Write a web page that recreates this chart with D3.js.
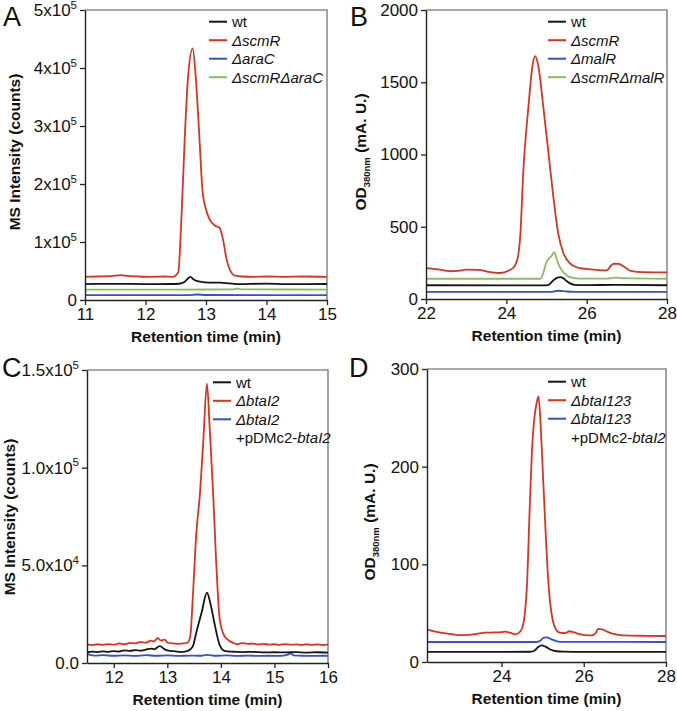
<!DOCTYPE html>
<html><head><meta charset="utf-8">
<script src="https://cdn.jsdelivr.net/npm/d3@7"></script>
<style>body{margin:0;background:#fff} text{font-family:"Liberation Sans",Arial,Helvetica,sans-serif}</style>
</head><body><svg id="c" width="677" height="711"></svg>
<script>
// ---------- DATA ----------
// Panel A (MS intensity, counts)
const aXTicks = [11, 12, 13, 14, 15];
const aYTicks = [0, 1e5, 2e5, 3e5, 4e5, 5e5];
const aYTickLabels = [["0",""],["1x10","5"],["2x10","5"],["3x10","5"],["4x10","5"],["5x10","5"]];
const aNames = ["wt", "ΔscmR", "ΔaraC", "ΔscmRΔaraC"];
const aWt = [[11,27500],[11.5,27800],[12,27500],[12.4,27600],[12.56,28000],[12.65,31500],[12.74,40000],[12.8,35000],[12.9,31500],[13.06,30000],[13.23,30000],[13.39,28500],[13.5,27500],[14,28200],[14.3,27500],[15,27600]];
const aScmR = [[11,40000],[11.2,40500],[11.4,41000],[11.6,43000],[11.7,41500],[11.9,40500],[12.1,40000],[12.3,40500],[12.45,40000],[12.54,47600],[12.6,156000],[12.65,282000],[12.7,380000],[12.78,434000],[12.83,385000],[12.89,282000],[12.94,191000],[13.0,156000],[13.06,139000],[13.15,128000],[13.22,125000],[13.28,105000],[13.34,70000],[13.39,53000],[13.48,42000],[13.6,40500],[13.8,40000],[14.0,40500],[14.3,40000],[14.6,40500],[15,40000]];
const aAraC = [[11,8500],[12.7,8500],[12.85,9500],[13.0,8600],[15,8500]];
const aScmRAraC = [[11,18000],[12.5,18000],[13.45,18300],[13.52,19800],[13.58,18300],[15,18000]];

// Panel B (OD380nm, mA.U.)
const bXTicks = [22, 24, 26, 28];
const bYTicks = [0, 500, 1000, 1500, 2000];
const bNames = ["wt", "ΔscmR", "ΔmalR", "ΔscmRΔmalR"];
const bWt = [[22,95],[24.9,94],[25.04,96],[25.17,129],[25.27,148],[25.35,152],[25.42,143],[25.5,124],[25.6,106],[25.7,98],[26,96],[26.7,98],[28,95]];
const bScmR = [[22,214],[22.3,205],[22.6,192],[22.8,195],[23.0,203],[23.3,202],[23.6,186],[23.85,180],[24.05,195],[24.2,225],[24.28,280],[24.35,450],[24.42,870],[24.55,1331],[24.66,1631],[24.72,1681],[24.8,1607],[24.92,1331],[25.04,1032],[25.17,709],[25.29,456],[25.42,318],[25.58,249],[25.83,214],[26.0,208],[26.3,200],[26.5,198],[26.6,230],[26.68,244],[26.8,243],[26.95,220],[27.1,195],[27.4,186],[28,184]];
const bMalR = [[22,50],[25.1,50],[25.3,57],[25.5,52],[25.7,50],[28,50]];
const bScmRMalR = [[22,140],[24.85,140],[24.92,180],[25.0,255],[25.08,285],[25.13,300],[25.19,325],[25.25,280],[25.3,240],[25.42,185],[25.55,155],[25.7,145],[25.9,141],[26.5,141],[26.7,148],[26.9,144],[28,140]];

// Panel C (MS intensity, counts)
const cXTicks = [12, 13, 14, 15, 16];
const cYTicks = [0, 5e4, 1e5, 1.5e5];
const cYTickLabels = [["0.0",""],["5.0x10","4"],["1.0x10","5"],["1.5x10","5"]];
const cWt = [[11.5,5500],[11.6,5800],[11.7,5600],[11.8,6000],[11.9,5700],[12.0,6100],[12.1,5900],[12.2,6500],[12.3,6200],[12.4,6600],[12.5,6300],[12.6,6900],[12.7,7400],[12.75,7000],[12.86,8600],[12.95,7000],[13.05,6200],[13.15,6000],[13.25,5600],[13.33,5800],[13.42,6800],[13.48,8800],[13.54,15500],[13.64,25800],[13.74,36000],[13.8,31000],[13.89,19000],[13.98,9000],[14.07,6200],[14.2,5800],[14.4,5600],[14.6,5700],[14.8,5400],[15.0,5500],[15.2,5400],[15.4,5600],[15.6,5300],[15.8,5500],[16.0,5300]];
const cBtaI2 = [[11.5,9500],[11.6,9200],[11.7,9600],[11.8,9300],[11.9,9700],[12.0,9400],[12.1,10000],[12.2,9600],[12.3,10300],[12.4,10000],[12.5,10800],[12.6,10400],[12.7,11500],[12.75,11000],[12.82,12800],[12.88,11500],[12.95,12000],[13.0,10500],[13.1,10000],[13.2,9800],[13.3,10000],[13.38,10500],[13.43,14000],[13.48,36000],[13.54,66000],[13.61,87000],[13.67,113000],[13.74,143000],[13.79,121000],[13.86,84000],[13.91,53000],[13.98,22000],[14.07,13600],[14.15,11500],[14.23,10300],[14.3,9600],[14.4,10200],[14.5,9800],[14.6,9900],[14.7,9500],[14.8,9800],[14.9,9400],[15.0,9600],[15.1,9300],[15.2,9700],[15.3,9400],[15.4,9500],[15.5,9200],[15.6,9600],[15.7,9300],[15.8,9500],[15.9,9200],[16.0,9400]];
const cComp = [[11.5,5000],[11.55,4200],[11.65,3800],[11.8,4000],[12.0,3700],[12.2,3900],[12.4,3600],[12.6,4000],[12.8,3700],[13.0,3900],[13.2,3600],[13.4,3800],[13.6,3700],[13.75,4200],[13.9,3700],[14.1,3900],[14.3,3600],[14.5,3800],[14.7,3600],[14.9,3700],[15.1,3600],[15.25,4300],[15.3,5000],[15.36,3900],[15.5,3700],[15.7,3600],[15.9,3700],[16.0,3600]];

// Panel D (OD380nm, mA.U.)
const dXTicks = [24, 26, 28];
const dYTicks = [0, 100, 200, 300];
const dWt = [[22.19,10.3],[24.7,10.5],[24.8,11.5],[24.9,15.5],[24.98,17],[25.08,15.5],[25.2,12.5],[25.35,11],[25.5,10.6],[26.0,10.3],[28,10.4]];
const dBtaI123 = [[22.19,33.5],[22.4,31],[22.6,29.5],[22.8,28.5],[23.0,27.5],[23.2,27.8],[23.4,28.8],[23.6,30],[23.8,30.2],[24.0,30.5],[24.1,31],[24.2,30],[24.35,28.3],[24.45,31],[24.52,37],[24.57,50],[24.62,78],[24.68,150],[24.74,215],[24.8,250],[24.85,264],[24.9,272],[24.95,245],[25.0,200],[25.06,145],[25.12,95],[25.18,62],[25.25,42],[25.33,33],[25.42,30],[25.55,29.5],[25.65,31.5],[25.75,30.5],[25.9,28.5],[26.05,27.5],[26.2,27.3],[26.28,29],[26.35,34],[26.45,33.5],[26.55,31.5],[26.7,29],[26.85,27.8],[27.0,27.2],[27.5,26.8],[28.0,26.6]];
const dComp = [[22.19,20.5],[24.85,20.5],[24.95,22],[25.03,25],[25.1,25.3],[25.2,23.5],[25.35,21.2],[25.5,20.6],[28,20.5]];

// ---------- DRAW ----------
const svg = d3.select("#c");
const COL = {k:"#151515", r:"#d8341e", b:"#3050d6", g:"#8abd5c"};
const FONT = "'Liberation Sans',Arial,Helvetica,sans-serif";

function panel(p) {
  const g = svg.append("g");
  const x = d3.scaleLinear().domain(p.xDomain).range([p.x0, p.x1]);
  const y = d3.scaleLinear().domain(p.yDomain).range([p.y1, p.y0]);
  g.append("path").attr("d", `M${p.x0},${p.y0}H${p.x1}V${p.y1}`)
    .attr("fill","none").attr("stroke","#8c8c8c").attr("stroke-width",1.6);
  const line = d3.line().x(d=>x(d[0])).y(d=>y(d[1])).curve(d3.curveMonotoneX);
  p.series.forEach(s => {
    g.append("path").datum(s.data).attr("d", line)
      .attr("fill","none").attr("stroke", s.color).attr("stroke-width",1.8)
      .attr("stroke-linejoin","round");
  });
  const xa = g.append("g").attr("transform",`translate(0,${p.y1})`)
    .call(d3.axisBottom(x).tickValues(p.xTicks).tickSize(5).tickSizeOuter(0).tickPadding(3).tickFormat(d3.format("d")));
  const ya = g.append("g").attr("transform",`translate(${p.x0},0)`)
    .call(d3.axisLeft(y).tickValues(p.yTicks).tickSize(5).tickSizeOuter(0).tickPadding(3).tickFormat(d3.format("d")));
  [xa, ya].forEach(a => {
    a.select(".domain").attr("stroke","#222").attr("stroke-width",1.4);
    a.selectAll(".tick line").attr("stroke","#222").attr("stroke-width",1.3);
    a.selectAll(".tick text").attr("font-family",FONT).attr("font-size",17).attr("fill","#111");
  });
  if (p.yLabels) {
    ya.selectAll(".tick text").each(function(d, i) {
      const t = d3.select(this); const lab = p.yLabels[i];
      t.text(null);
      t.append("tspan").text(lab[0]);
      if (lab[1]) t.append("tspan").attr("font-size",11.5).attr("dy","-0.62em").text(lab[1]);
    });
  }
  g.append("text").attr("x",(p.x0+p.x1)/2).attr("y",p.y1+42).attr("text-anchor","middle")
    .attr("font-weight","bold").attr("font-size",15.5).attr("fill","#111").text("Retention time (min)");
  const yt = g.append("text").attr("transform",`translate(${p.ytX},${p.ytY}) rotate(-90)`)
    .attr("text-anchor","middle").attr("font-weight","bold").attr("font-size",15.5).attr("fill","#111");
  if (p.od) {
    yt.append("tspan").text("OD");
    yt.append("tspan").attr("font-size",9.5).attr("dy",4).text("380nm");
    yt.append("tspan").attr("dy",-4).text(" (mA. U.)");
  } else yt.text("MS Intensity (counts)");
  g.append("text").attr("x",p.lx).attr("y",p.ly).attr("font-size",27).attr("fill","#111").text(p.letter);
  p.legend.forEach((L, i) => {
    const yy = p.legY + L.row * 18.5;
    if (L.color) g.append("line").attr("x1",p.legX).attr("x2",p.legX+18).attr("y1",yy).attr("y2",yy)
      .attr("stroke",L.color).attr("stroke-width",2);
    const t = g.append("text").attr("x",p.legX+23).attr("y",yy+5.5).attr("font-size",15).attr("fill","#111");
    L.parts.forEach(pt => t.append("tspan").attr("font-style", pt[1] ? "italic" : "normal").text(pt[0]));
  });
}

panel({letter:"A", lx:3, ly:26, x0:85, x1:327, y0:10, y1:300,
  xDomain:[11,15], yDomain:[0,5e5], xTicks:aXTicks, yTicks:aYTicks, yLabels:aYTickLabels,
  ytX:20, ytY:152,
  series:[{data:aAraC,color:COL.b},{data:aScmRAraC,color:COL.g},{data:aWt,color:COL.k},{data:aScmR,color:COL.r}],
  legX:209, legY:21.7,
  legend:[{row:0,color:COL.k,parts:[[aNames[0],0]]},{row:1,color:COL.r,parts:[[aNames[1],1]]},
          {row:2,color:COL.b,parts:[[aNames[2],1]]},{row:3,color:COL.g,parts:[[aNames[3],1]]}]});

panel({letter:"B", lx:350, ly:26, x0:426, x1:667, y0:10, y1:299,
  xDomain:[22,28], yDomain:[0,2000], xTicks:bXTicks, yTicks:bYTicks, od:true,
  ytX:366, ytY:152,
  series:[{data:bMalR,color:COL.b},{data:bWt,color:COL.k},{data:bScmRMalR,color:COL.g},{data:bScmR,color:COL.r}],
  legX:548, legY:21.7,
  legend:[{row:0,color:COL.k,parts:[[bNames[0],0]]},{row:1,color:COL.r,parts:[[bNames[1],1]]},
          {row:2,color:COL.b,parts:[[bNames[2],1]]},{row:3,color:COL.g,parts:[[bNames[3],1]]}]});

panel({letter:"C", lx:2, ly:377, x0:87, x1:328, y0:370, y1:663,
  xDomain:[11.5,16], yDomain:[0,1.5e5], xTicks:cXTicks, yTicks:cYTicks, yLabels:cYTickLabels,
  ytX:15, ytY:517,
  series:[{data:cComp,color:COL.b},{data:cWt,color:COL.k},{data:cBtaI2,color:COL.r}],
  legX:213, legY:382.3,
  legend:[{row:0,color:COL.k,parts:[["wt",0]]},{row:1,color:COL.r,parts:[["ΔbtaI2",1]]},
          {row:2,color:COL.b,parts:[["ΔbtaI2",1]]},{row:3,parts:[["+pDMc2-",0],["btaI2",1]]}]});

panel({letter:"D", lx:349, ly:377, x0:427, x1:666, y0:369, y1:662,
  xDomain:[22.19,28], yDomain:[0,300], xTicks:dXTicks, yTicks:dYTicks, od:true,
  ytX:375, ytY:522,
  series:[{data:dComp,color:COL.b},{data:dWt,color:COL.k},{data:dBtaI123,color:COL.r}],
  legX:548, legY:381.7,
  legend:[{row:0,color:COL.k,parts:[["wt",0]]},{row:1,color:COL.r,parts:[["ΔbtaI123",1]]},
          {row:2,color:COL.b,parts:[["ΔbtaI123",1]]},{row:3,parts:[["+pDMc2-",0],["btaI2",1]]}]});
</script></body></html>
